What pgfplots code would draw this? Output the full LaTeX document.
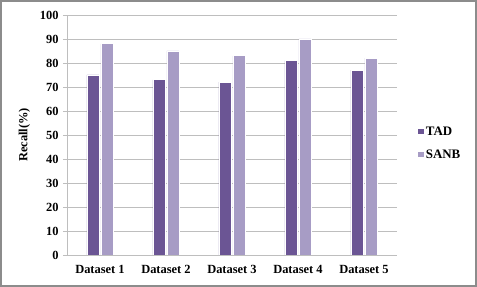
\documentclass[border=0pt]{standalone}
\usepackage{fontspec}
\setmainfont{Liberation Serif}
\usepackage{pgfplots}
\pgfplotsset{compat=1.18}
\definecolor{tad}{RGB}{107,85,148}
\definecolor{sanb}{RGB}{167,156,197}
\definecolor{gridc}{RGB}{190,190,190}
\definecolor{framec}{RGB}{140,140,140}
\begin{document}
\begin{tikzpicture}
\useasboundingbox (0,0) rectangle (477bp,287bp);
\draw[framec, line width=1.5bp] (1bp,1bp) rectangle (476bp,286bp);
\begin{axis}[
  at={(67bp,32bp)}, anchor=south west,
  scale only axis, width=330bp, height=240bp,
  xmin=-0.5, xmax=4.5, ymin=0, ymax=100,
  ytick={0,10,...,100},
  xtick=data,
  xticklabels={Dataset 1,Dataset 2,Dataset 3,Dataset 4,Dataset 5},
  ybar, bar width=12bp,
  axis lines*=left,
  axis line style={draw=gridc, -},
  ymajorgrids, grid style={draw=gridc, line width=0.6bp},
  major x tick style={draw=none},
  major y tick style={draw=gridc},
  tick align=outside, major tick length=4bp,
  /pgf/number format/assume math mode=true,
  ticklabel style={font=\fontsize{12.5}{14}\selectfont\bfseries},
  yticklabel style={xshift=-1bp},
  xticklabel style={yshift=-3bp},
  ylabel={Recall(\%)},
  ylabel style={font=\fontsize{12.5}{14}\selectfont\bfseries, yshift=3bp},
  legend style={at={(1.055,0.465)}, anchor=west, draw=none, fill=none,
    font=\fontsize{13}{15}\selectfont\bfseries, row sep=9bp},
  legend cell align=left,
  legend image code/.code={\fill[#1,draw=none] (0bp,-2.5bp) rectangle (5.5bp,2.5bp);},
]
\addplot[fill=tad, draw=white, line width=0.8bp, bar shift=-7bp] coordinates {(0,75) (1,73) (2,72) (3,81) (4,77)};
\addplot[fill=sanb, draw=white, line width=0.8bp, bar shift=7bp] coordinates {(0,88) (1,85) (2,83) (3,90) (4,82)};
\legend{TAD,SANB}
\end{axis}
\end{tikzpicture}
\end{document}
